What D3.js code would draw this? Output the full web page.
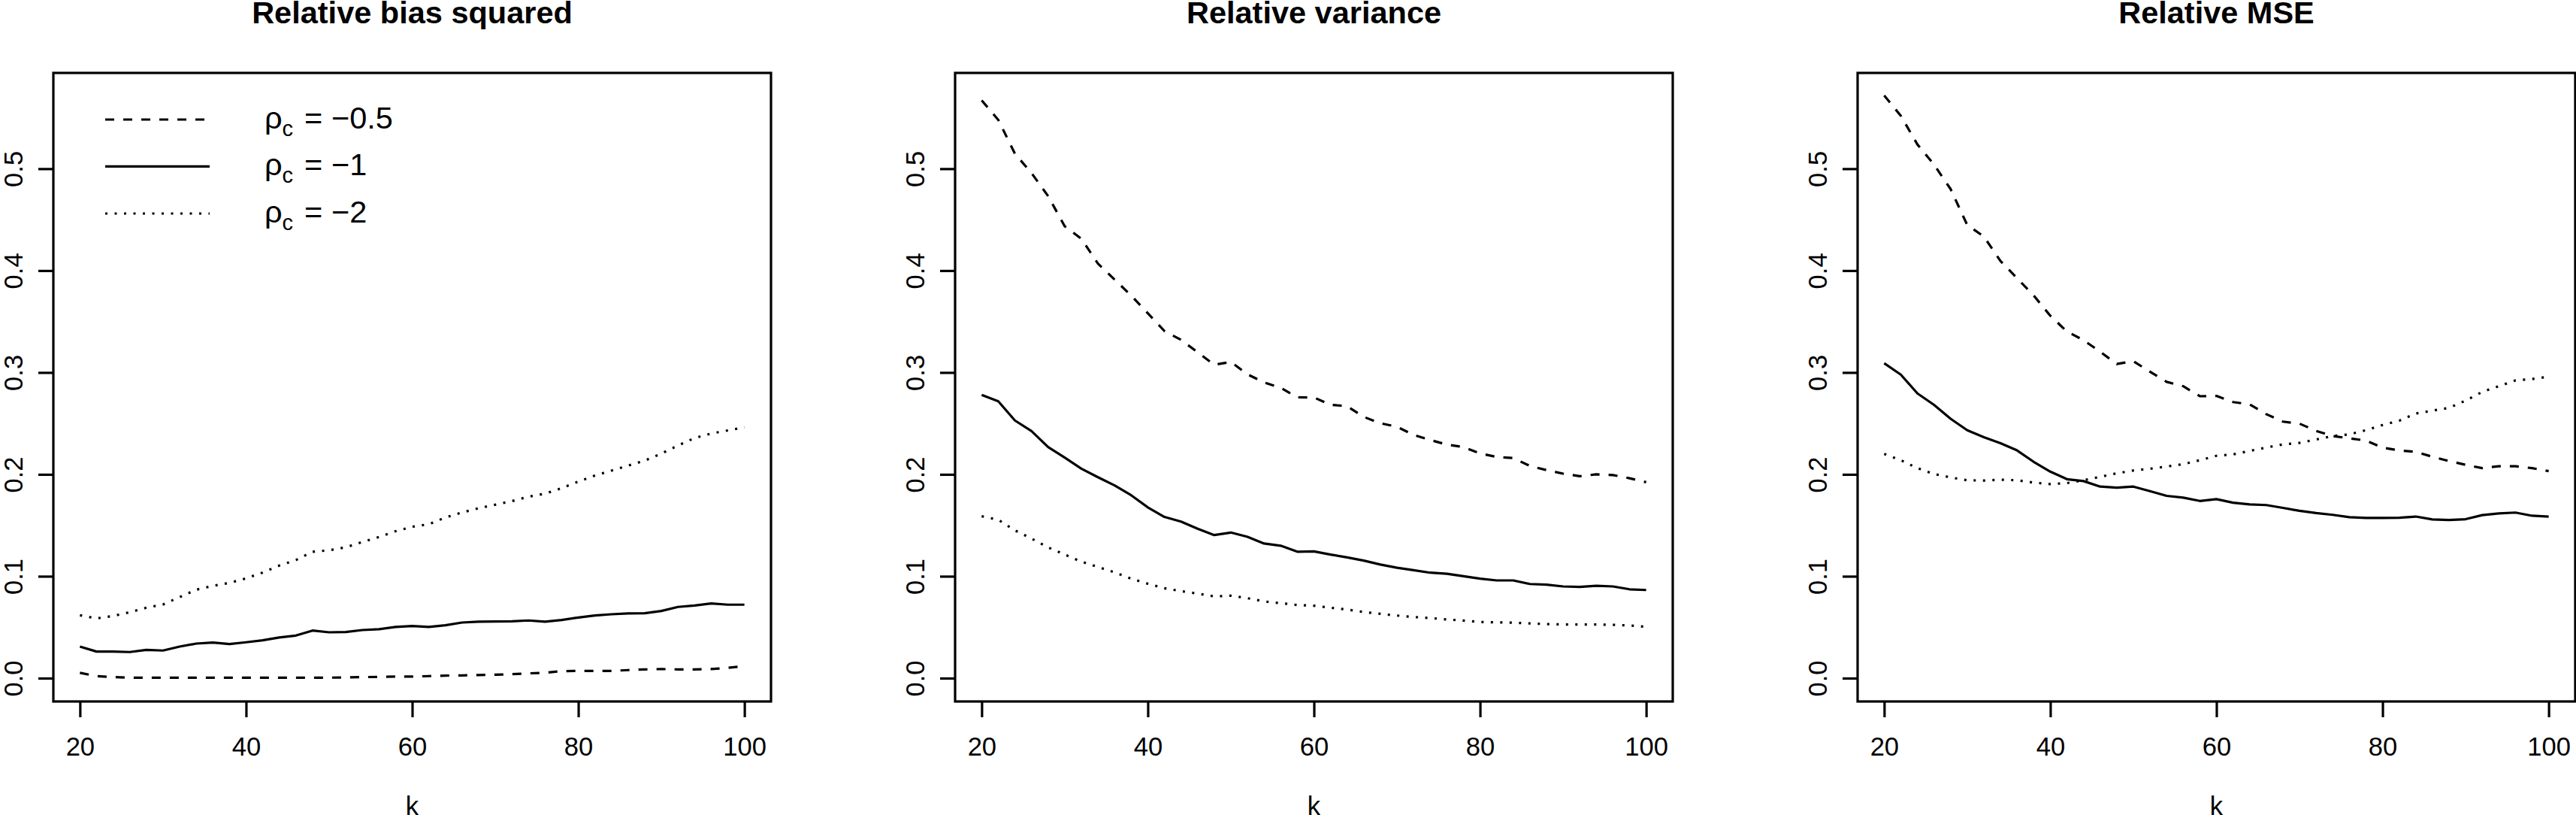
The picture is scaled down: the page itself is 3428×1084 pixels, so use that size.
<!DOCTYPE html>
<html>
<head>
<meta charset="utf-8">
<script src="https://cdn.jsdelivr.net/npm/d3@7"></script>
<style>
  body { margin: 0; background: #fff; }
  svg { display: block; font-family: "Liberation Sans", Arial, Helvetica, sans-serif; }
</style>
</head>
<body>
<script>
// x values (k) shared by every curve
const kValues = [20, 22, 24, 26, 28, 30, 32, 34, 36, 38, 40, 42, 44, 46, 48, 50, 52, 54, 56, 58, 60,
    62, 64, 66, 68, 70, 72, 74, 76, 78, 80, 82, 84, 86, 88, 90, 92, 94, 96, 98, 100];

// Relative bias squared
const biasHalf = [0.0052, 0.0020, 0.0010, 0.0005, 0.0005, 0.0005, 0.0005, 0.0005, 0.0005, 0.0005, 0.0005,
    0.0005, 0.0005, 0.0005, 0.0005, 0.0005, 0.0007, 0.0010, 0.0012, 0.0015, 0.0015, 0.0020, 0.0025, 0.0027,
    0.0030, 0.0034, 0.0039, 0.0047, 0.0052, 0.0069, 0.0071, 0.0071, 0.0071, 0.0079, 0.0086, 0.0089, 0.0086,
    0.0086, 0.0089, 0.0101, 0.0118];
const biasOne = [0.0310, 0.0261, 0.0261, 0.0256, 0.0278, 0.0271, 0.0310, 0.0339, 0.0349, 0.0334, 0.0352,
    0.0371, 0.0399, 0.0418, 0.0467, 0.0450, 0.0453, 0.0472, 0.0480, 0.0502, 0.0512, 0.0502, 0.0519, 0.0546,
    0.0554, 0.0556, 0.0558, 0.0566, 0.0554, 0.0571, 0.0595, 0.0615, 0.0627, 0.0635, 0.0637, 0.0659, 0.0699,
    0.0713, 0.0733, 0.0721, 0.0721];
const biasTwo = [0.0617, 0.0586, 0.0610, 0.0647, 0.0691, 0.0723, 0.0795, 0.0868, 0.0905, 0.0935, 0.0979,
    0.1036, 0.1105, 0.1159, 0.1240, 0.1255, 0.1284, 0.1336, 0.1385, 0.1442, 0.1486, 0.1510, 0.1577, 0.1626,
    0.1668, 0.1702, 0.1737, 0.1781, 0.1811, 0.1865, 0.1929, 0.1988, 0.2037, 0.2086, 0.2135, 0.2204, 0.2283,
    0.2357, 0.2401, 0.2431, 0.2462];

// Relative variance
const varHalf = [0.5671, 0.5479, 0.5148, 0.4957, 0.4731, 0.4435, 0.4313, 0.4069, 0.3912, 0.3755, 0.3582,
    0.3407, 0.3320, 0.3198, 0.3076, 0.3104, 0.2982, 0.2902, 0.2850, 0.2756, 0.2755, 0.2683, 0.2669, 0.2564,
    0.2502, 0.2467, 0.2387, 0.2338, 0.2292, 0.2268, 0.2205, 0.2171, 0.2160, 0.2083, 0.2042, 0.2007, 0.1982,
    0.2000, 0.1993, 0.1962, 0.1923];
const varOne = [0.2780, 0.2717, 0.2529, 0.2425, 0.2268, 0.2164, 0.2056, 0.1972, 0.1892, 0.1795, 0.1676,
    0.1582, 0.1537, 0.1467, 0.1404, 0.1429, 0.1387, 0.1321, 0.1300, 0.1241, 0.1244, 0.1213, 0.1185, 0.1154,
    0.1115, 0.1084, 0.1060, 0.1035, 0.1025, 0.1001, 0.0976, 0.0959, 0.0959, 0.0924, 0.0917, 0.0900, 0.0896,
    0.0906, 0.0900, 0.0872, 0.0865];
const varTwo = [0.1589, 0.1554, 0.1450, 0.1370, 0.1283, 0.1213, 0.1143, 0.1091, 0.1039, 0.0976, 0.0927,
    0.0882, 0.0854, 0.0830, 0.0802, 0.0809, 0.0785, 0.0753, 0.0736, 0.0718, 0.0711, 0.0691, 0.0673, 0.0649,
    0.0631, 0.0614, 0.0600, 0.0590, 0.0576, 0.0565, 0.0551, 0.0548, 0.0544, 0.0537, 0.0530, 0.0527, 0.0527,
    0.0527, 0.0523, 0.0517, 0.0503];

// Relative MSE
const mseHalf = [0.5718, 0.5520, 0.5238, 0.5040, 0.4800, 0.4447, 0.4334, 0.4094, 0.3925, 0.3755, 0.3557,
    0.3402, 0.3317, 0.3204, 0.3083, 0.3111, 0.3007, 0.2908, 0.2865, 0.2767, 0.2770, 0.2710, 0.2687, 0.2591,
    0.2518, 0.2498, 0.2427, 0.2376, 0.2354, 0.2331, 0.2263, 0.2235, 0.2221, 0.2173, 0.2131, 0.2094, 0.2061,
    0.2080, 0.2080, 0.2061, 0.2032];
const mseOne = [0.3091, 0.2979, 0.2795, 0.2682, 0.2546, 0.2433, 0.2365, 0.2306, 0.2235, 0.2123, 0.2027,
    0.1953, 0.1934, 0.1880, 0.1869, 0.1880, 0.1835, 0.1789, 0.1772, 0.1739, 0.1757, 0.1722, 0.1705, 0.1699,
    0.1671, 0.1642, 0.1620, 0.1603, 0.1580, 0.1572, 0.1572, 0.1575, 0.1586, 0.1558, 0.1552, 0.1560, 0.1600,
    0.1617, 0.1625, 0.1594, 0.1586];
const mseTwo = [0.2201, 0.2139, 0.2061, 0.2004, 0.1970, 0.1942, 0.1939, 0.1948, 0.1942, 0.1919, 0.1905,
    0.1914, 0.1942, 0.1976, 0.2010, 0.2038, 0.2055, 0.2077, 0.2100, 0.2139, 0.2182, 0.2196, 0.2230, 0.2263,
    0.2294, 0.2309, 0.2342, 0.2376, 0.2393, 0.2433, 0.2484, 0.2526, 0.2597, 0.2625, 0.2653, 0.2724, 0.2809,
    0.2866, 0.2922, 0.2936, 0.2959];

const titles = ["Relative bias squared", "Relative variance", "Relative MSE"];
const rhoValues = ["\u22120.5", "\u22121", "\u22122"];
const xTicks = [20, 40, 60, 80, 100];
const yTicks = [0, 0.1, 0.2, 0.3, 0.4, 0.5];
const xLabel = "k";

const panels = [
    [biasHalf, biasOne, biasTwo],
    [varHalf, varOne, varTwo],
    [mseHalf, mseOne, mseTwo]
];

const W = 3428;
const H = 1084;
const panelLeft = [71, 1271, 2472];
const plotW = 955;
const plotTop = 97;
const plotBottom = 933;
const baseFont = 34.6;
const lineW = 3.2;
const dashes = ["12,12", null, "3,9.5"];

const svg = d3.select("body")
    .append("svg")
    .attr("width", W)
    .attr("height", H);

svg.append("rect")
    .attr("width", W)
    .attr("height", H)
    .attr("fill", "#fff");

panels.forEach(function (series, i) {
    const left = panelLeft[i];
    const x = d3.scaleLinear().domain([16.8, 103.2]).range([left, left + plotW]);
    const y = d3.scaleLinear().domain([-0.0229, 0.594]).range([plotBottom, plotTop]);

    const g = svg.append("g").attr("class", "panel");

    // curves
    const line = d3.line()
        .x((d, j) => x(kValues[j]))
        .y(d => y(d));

    series.forEach(function (vals, s) {
        g.append("path")
            .datum(vals)
            .attr("d", line)
            .attr("fill", "none")
            .attr("stroke", "#000")
            .attr("stroke-width", lineW)
            .attr("stroke-linejoin", "round")
            .attr("stroke-dasharray", dashes[s]);
    });

    // box
    g.append("rect")
        .attr("x", left)
        .attr("y", plotTop)
        .attr("width", plotW)
        .attr("height", plotBottom - plotTop)
        .attr("fill", "none")
        .attr("stroke", "#000")
        .attr("stroke-width", lineW);

    // x axis
    const xAxis = d3.axisBottom(x)
        .tickValues(xTicks)
        .tickFormat(d3.format("d"))
        .tickSize(21)
        .tickPadding(26);
    const gx = g.append("g")
        .attr("transform", "translate(0," + plotBottom + ")")
        .call(xAxis);
    gx.select(".domain").remove();
    gx.selectAll("line").attr("stroke-width", lineW);
    gx.selectAll("text")
        .attr("font-size", baseFont)
        .attr("font-family", "Liberation Sans, Arial, sans-serif");

    // y axis, labels parallel to the axis like R
    const yAxis = d3.axisLeft(y)
        .tickValues(yTicks)
        .tickFormat(d3.format(".1f"))
        .tickSize(20);
    const gy = g.append("g")
        .attr("transform", "translate(" + left + ",0)")
        .call(yAxis);
    gy.select(".domain").remove();
    gy.selectAll("line").attr("stroke-width", lineW);
    gy.selectAll("text")
        .attr("font-size", baseFont)
        .attr("font-family", "Liberation Sans, Arial, sans-serif")
        .attr("transform", "rotate(-90)")
        .attr("x", 0)
        .attr("y", -41.5)
        .attr("dy", 0)
        .attr("text-anchor", "middle");

    // title
    svg.append("text")
        .attr("x", left + plotW / 2)
        .attr("y", 31)
        .attr("text-anchor", "middle")
        .attr("font-size", 41.5)
        .attr("font-weight", "bold")
        .text(titles[i]);

    // x label
    svg.append("text")
        .attr("x", left + plotW / 2)
        .attr("y", 1084)
        .attr("text-anchor", "middle")
        .attr("font-size", baseFont)
        .text(xLabel);
});

// legend (first panel only)
const legend = svg.append("g").attr("id", "legend");
const legendY = [159, 221.4, 284];

rhoValues.forEach(function (v, s) {
    legend.append("line")
        .attr("x1", 140)
        .attr("x2", 279)
        .attr("y1", legendY[s])
        .attr("y2", legendY[s])
        .attr("stroke", "#000")
        .attr("stroke-width", lineW)
        .attr("stroke-dasharray", dashes[s]);

    const t = legend.append("text")
        .attr("x", 352)
        .attr("y", legendY[s] + 12)
        .attr("font-size", 41.5);
    t.append("tspan").text("\u03C1");
    t.append("tspan")
        .attr("font-size", 29)
        .attr("dy", 10)
        .text("c");
    t.append("tspan")
        .attr("x", 405)
        .attr("dy", -10)
        .text("=");
    t.append("tspan")
        .attr("x", 441)
        .text(v);
});
</script>
</body>
</html>
